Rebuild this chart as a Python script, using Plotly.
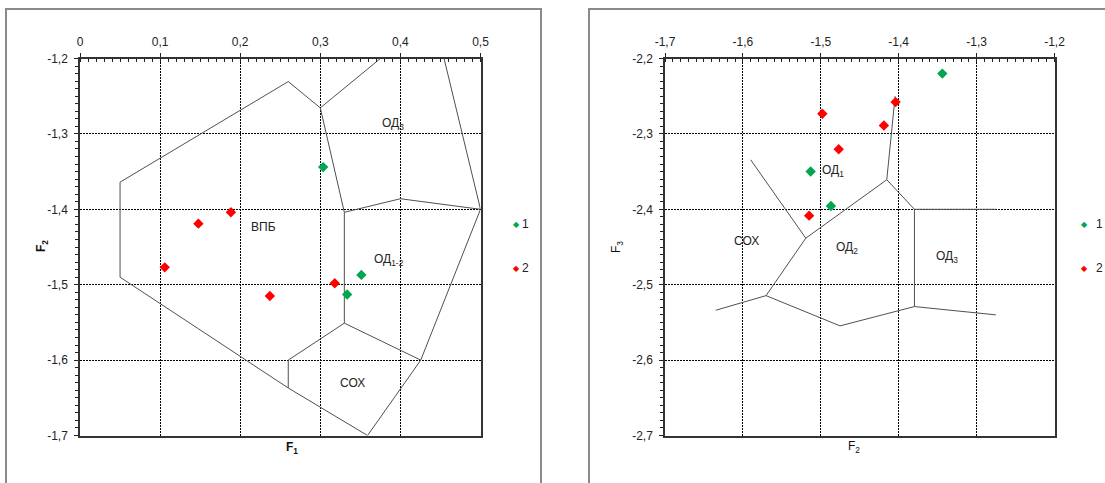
import plotly.graph_objects as go

# ---- sample scores on the discriminant functions ----
g1_f1 = [0.3036, 0.3513, 0.3335]
g1_f2 = [-1.344, -1.487, -1.513]
g1_f3 = [-2.220, -2.3956, -2.3498]

g2_f1 = [0.1884, 0.1478, 0.1058, 0.237, 0.318]
g2_f2 = [-1.404, -1.419, -1.477, -1.515, -1.498]
g2_f3 = [-2.2578, -2.2889, -2.3204, -2.4084, -2.2733]

# ---- tick values / labels ----
f1_ticks = [0.0, 0.1, 0.2, 0.3, 0.4, 0.5]
f1_labels = ["0", "0,1", "0,2", "0,3", "0,4", "0,5"]
f2_ticks = [-1.7, -1.6, -1.5, -1.4, -1.3, -1.2]
f2_labels = ["-1,7", "-1,6", "-1,5", "-1,4", "-1,3", "-1,2"]
f3_ticks = [-2.7, -2.6, -2.5, -2.4, -2.3, -2.2]
f3_labels = ["-2,7", "-2,6", "-2,5", "-2,4", "-2,3", "-2,2"]

# ---- class boundaries, F1-F2 plane ----
bnd12_a_x = [0.359, 0.26, 0.05, 0.05, 0.26, 0.30, 0.375]
bnd12_a_y = [-1.70, -1.637, -1.49, -1.364, -1.2306, -1.2655, -1.20]
bnd12_b_x = [0.30, 0.33, 0.33, 0.26, 0.26]
bnd12_b_y = [-1.2655, -1.404, -1.551, -1.60, -1.637]
bnd12_c_x = [0.33, 0.40, 0.50]
bnd12_c_y = [-1.404, -1.386, -1.40]
bnd12_d_x = [0.33, 0.4254]
bnd12_d_y = [-1.551, -1.60]
bnd12_e_x = [0.4545, 0.50, 0.4254, 0.359]
bnd12_e_y = [-1.20, -1.40, -1.60, -1.70]

# ---- class boundaries, F2-F3 plane ----
bnd23_a_x = [-1.4046, -1.4153, -1.5193, -1.59]
bnd23_a_y = [-2.250, -2.3608, -2.4383, -2.3344]
bnd23_b_x = [-1.4153, -1.3798, -1.2753]
bnd23_b_y = [-2.3608, -2.40, -2.40]
bnd23_c_x = [-1.3798, -1.3798]
bnd23_c_y = [-2.40, -2.529]
bnd23_d_x = [-1.5193, -1.5703, -1.6349]
bnd23_d_y = [-2.4383, -2.5145, -2.5339]
bnd23_e_x = [-1.5703, -1.4753, -1.3798, -1.2753]
bnd23_e_y = [-2.5145, -2.5546, -2.529, -2.540]

# ---- region labels ----
reg12_text = ["ОД<sub>3</sub>", "ВПБ", "ОД<sub>1-2</sub>", "СОХ"]
reg12_x = [0.3906, 0.2286, 0.386, 0.3406]
reg12_y = [-1.2865, -1.424, -1.467, -1.630]
reg23_text = ["ОД<sub>1</sub>", "СОХ", "ОД<sub>2</sub>", "ОД<sub>3</sub>"]
reg23_x = [-1.4838, -1.596, -1.4667, -1.3374]
reg23_y = [-2.349, -2.442, -2.451, -2.4626]

W, H = 1105, 483
GREEN = "#00a650"
RED = "#ff0000"
LINE = "#505050"
GRID = "#000000"
FONT = "Liberation Sans, Arial, sans-serif"


def px(x):
    return x / W


def py(y):
    return 1 - y / H


fig = go.Figure()

for bx, by in [(bnd12_a_x, bnd12_a_y), (bnd12_b_x, bnd12_b_y), (bnd12_c_x, bnd12_c_y),
               (bnd12_d_x, bnd12_d_y), (bnd12_e_x, bnd12_e_y)]:
    fig.add_trace(go.Scatter(x=bx, y=by, mode="lines", line=dict(color=LINE, width=1),
                             xaxis="x", yaxis="y", showlegend=False, hoverinfo="skip"))
for bx, by in [(bnd23_a_x, bnd23_a_y), (bnd23_b_x, bnd23_b_y), (bnd23_c_x, bnd23_c_y),
               (bnd23_d_x, bnd23_d_y), (bnd23_e_x, bnd23_e_y)]:
    fig.add_trace(go.Scatter(x=bx, y=by, mode="lines", line=dict(color=LINE, width=1),
                             xaxis="x2", yaxis="y2", showlegend=False, hoverinfo="skip"))

mk = dict(symbol="diamond", size=8, line=dict(width=0))
fig.add_trace(go.Scatter(x=g1_f1, y=g1_f2, mode="markers", marker=dict(color=GREEN, **mk),
                         xaxis="x", yaxis="y", name="1", showlegend=False))
fig.add_trace(go.Scatter(x=g2_f1, y=g2_f2, mode="markers", marker=dict(color=RED, **mk),
                         xaxis="x", yaxis="y", name="2", showlegend=False))
fig.add_trace(go.Scatter(x=g1_f2, y=g1_f3, mode="markers", marker=dict(color=GREEN, **mk),
                         xaxis="x2", yaxis="y2", name="1", showlegend=False))
fig.add_trace(go.Scatter(x=g2_f2, y=g2_f3, mode="markers", marker=dict(color=RED, **mk),
                         xaxis="x2", yaxis="y2", name="2", showlegend=False))

ydom = [py(435.5), py(58.5)]
tick_font = dict(family=FONT, size=12, color="#222")


def xaxis_cfg(dom, rng, vals, labels, anchor):
    return dict(domain=dom, range=rng, side="top", anchor=anchor, automargin=False,
                tickvals=vals, ticktext=labels,
                ticks="outside", ticklen=4, tickcolor="#222", tickfont=tick_font,
                ticklabelstandoff=2,
                minor=dict(dtick=0.01, ticks="inside", ticklen=4, tickcolor="#222", showgrid=False),
                showgrid=True, gridcolor=GRID, griddash="2px,1px", gridwidth=1,
                showline=True, linecolor="#333", linewidth=1.5, mirror=True,
                zeroline=False, fixedrange=True)


def yaxis_cfg(anchor, rng, vals, labels):
    return dict(domain=ydom, range=rng, anchor=anchor, automargin=False,
                tickvals=vals, ticktext=labels,
                ticks="outside", ticklen=4, tickcolor="#222", tickfont=tick_font,
                ticklabelstandoff=4,
                minor=dict(dtick=0.01, ticks="outside", ticklen=3, tickcolor="#222", showgrid=False),
                showgrid=True, gridcolor=GRID, griddash="2px,1px", gridwidth=1,
                showline=True, linecolor="#333", linewidth=1.5, mirror=True,
                zeroline=False, fixedrange=True)


annotations = []
lab_font = dict(family=FONT, size=12, color="#222")
for t, x, y in zip(reg12_text, reg12_x, reg12_y):
    annotations.append(dict(text=t, x=x, y=y, xref="x", yref="y", showarrow=False, font=lab_font))
for t, x, y in zip(reg23_text, reg23_x, reg23_y):
    annotations.append(dict(text=t, x=x, y=y, xref="x2", yref="y2", showarrow=False, font=lab_font))

# axis titles
annotations += [
    dict(text="<b>F<sub>1</sub></b>", x=px(283.5), y=py(458), xref="paper", yref="paper",
         showarrow=False, font=dict(family=FONT, size=12, color="#111")),
    dict(text="<b>F<sub>2</sub></b>", x=px(32), y=py(246), xref="paper", yref="paper",
         showarrow=False, textangle=-90, font=dict(family=FONT, size=12, color="#111")),
    dict(text="F<sub>2</sub>", x=px(862), y=py(457), xref="paper", yref="paper",
         showarrow=False, font=dict(family=FONT, size=12, color="#111")),
    dict(text="F<sub>3</sub>", x=px(617), y=py(247), xref="paper", yref="paper",
         showarrow=False, textangle=-90, font=dict(family=FONT, size=12, color="#111")),
]

# legend keys for both panels
for lx in (516, 1090):
    for name, col, ly in (("1", GREEN, 224), ("2", RED, 268)):
        annotations.append(dict(text="◆", x=px(lx), y=py(ly), xref="paper", yref="paper",
                                showarrow=False, font=dict(family="DejaVu Sans", size=8, color=col)))
        annotations.append(dict(text=name, x=px(lx + 4), y=py(ly), xref="paper", yref="paper",
                                xanchor="left", showarrow=False,
                                font=dict(family=FONT, size=12, color="#222")))

shapes = [
    dict(type="rect", xref="paper", yref="paper", x0=px(6), x1=px(541), y0=-0.05, y1=py(9),
         line=dict(color="#8a8a8a", width=2)),
    dict(type="rect", xref="paper", yref="paper", x0=px(589), x1=1.05, y0=-0.05, y1=py(9),
         line=dict(color="#8a8a8a", width=2)),
]

fig.update_layout(
    width=W, height=H, margin=dict(l=0, r=0, t=0, b=0, autoexpand=False),
    paper_bgcolor="white", plot_bgcolor="white",
    font=dict(family=FONT, size=12, color="#222"),
    xaxis=xaxis_cfg([px(80), px(480.5)], [0, 0.5], f1_ticks, f1_labels, "y"),
    yaxis=yaxis_cfg("x", [-1.7, -1.2], f2_ticks, f2_labels),
    xaxis2=xaxis_cfg([px(665), px(1054.5)], [-1.7, -1.2], f2_ticks, f2_labels, "y2"),
    yaxis2=yaxis_cfg("x2", [-2.7, -2.2], f3_ticks, f3_labels),
    annotations=annotations, shapes=shapes, showlegend=False, hovermode=False,
)

fig.write_html("out.html", config={"displayModeBar": False})
